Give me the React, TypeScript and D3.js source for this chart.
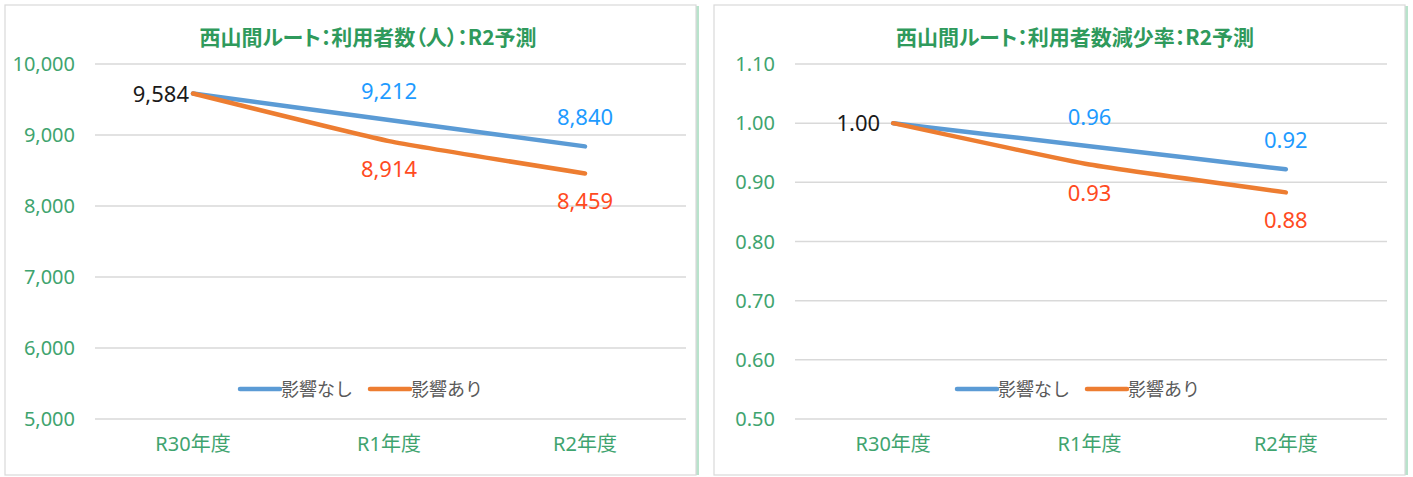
import React from 'react';
import * as d3 from 'd3';

// 西山間ルート data
const categories = ['R30年度', 'R1年度', 'R2年度'];
const noImpactUsers = [9584, 9212, 8840];
const impactUsers = [9584, 8914, 8459];
const noImpactRate = [1.0, 0.961, 0.922];
const impactRate = [1.0, 0.93, 0.883];
const userTicks = [5000, 6000, 7000, 8000, 9000, 10000];
const rateTicks = [0.5, 0.6, 0.7, 0.8, 0.9, 1.0, 1.1];
const seriesNames = ['影響なし', '影響あり'];

const BLUE = '#5b9bd5';
const ORANGE = '#ed7d31';
const BLUE_LABEL = '#1e9bff';
const RED_LABEL = '#ff4b1f';
const GREEN = '#3fa46f';
const TITLE_GREEN = '#2f9a5c';
const FONT = '"Noto Sans", "Noto Sans CJK JP", sans-serif';
const CJK = '"Noto Sans CJK JP", sans-serif';

type PanelProps = {
  x0: number;
  width: number;
  title: string;
  titleX: number;
  plotLeft: number;
  plotRight: number;
  domain: [number, number];
  ticks: number[];
  tickFmt: (v: number) => string;
  a: number[];
  b: number[];
  legendX: number;
  firstGap: number;
};

function Panel({ x0, width, title, titleX, plotLeft, plotRight, domain, ticks, tickFmt, a, b, legendX, firstGap }: PanelProps) {
  const top = 64;
  const bottom = 419;
  const x = d3.scaleBand<string>().domain(categories).range([plotLeft, plotRight]);
  const cx = (c: string) => (x(c) ?? 0) + x.bandwidth() / 2;
  const y = d3.scaleLinear().domain(domain).range([bottom, top]);
  const line = d3
    .line<number>()
    .x((_, i) => cx(categories[i]))
    .y((d) => y(d))
    .curve(d3.curveCardinal.tension(0.6));

  return (
    <g>
      <rect x={x0 + width} y={6} width={3} height={469} fill="#b9e3cc" />
      <rect x={x0} y={5} width={width} height={470} fill="#fff" stroke="#d9d9d9" strokeWidth={1.2} />
      <text
        x={titleX}
        y={45}
        textAnchor="middle"
        fontFamily={CJK}
        fontWeight={700}
        fontSize={21}
        fill={TITLE_GREEN}
        style={{ fontFeatureSettings: '"palt"' }}
      >
        {title}
      </text>
      {ticks.map((t) => (
        <g key={t}>
          <line x1={plotLeft} x2={plotRight + 3} y1={y(t)} y2={y(t)} stroke="#d9d9d9" strokeWidth={1.5} />
          <text x={plotLeft - 20} y={y(t) + 7} textAnchor="end" fontFamily={FONT} fontSize={20} fill={GREEN}>
            {tickFmt(t)}
          </text>
        </g>
      ))}
      {categories.map((c) => (
        <text key={c} x={cx(c)} y={451} textAnchor="middle" fontFamily={FONT} fontSize={20} fill={GREEN}>
          {c}
        </text>
      ))}
      <path d={line(a) ?? ''} fill="none" stroke={BLUE} strokeWidth={4.5} strokeLinecap="round" />
      <path d={line(b) ?? ''} fill="none" stroke={ORANGE} strokeWidth={4.5} strokeLinecap="round" />
      {/* data labels */}
      <text x={cx(categories[0]) - firstGap} y={y(a[0]) + 8} textAnchor="end" fontFamily={FONT} fontSize={22} fill="#1a1a1a">
        {tickFmt(a[0])}
      </text>
      {a.slice(1).map((v, i) => (
        <text key={'a' + i} x={cx(categories[i + 1])} y={y(v) - 21} textAnchor="middle" fontFamily={FONT} fontSize={22} fill={BLUE_LABEL}>
          {tickFmt(v)}
        </text>
      ))}
      {b.slice(1).map((v, i) => (
        <text key={'b' + i} x={cx(categories[i + 1])} y={y(v) + 36} textAnchor="middle" fontFamily={FONT} fontSize={22} fill={RED_LABEL}>
          {tickFmt(v)}
        </text>
      ))}
      {/* legend */}
      {seriesNames.map((s, i) => (
        <g key={s} transform={`translate(${legendX + i * 130},389)`}>
          <line x1={0} x2={40} y1={0} y2={0} stroke={i === 0 ? BLUE : ORANGE} strokeWidth={4.5} strokeLinecap="round" />
          <text x={41} y={7} fontFamily={CJK} fontSize={18} fill="#595959">
            {s}
          </text>
        </g>
      ))}
    </g>
  );
}

export default function App() {
  const fmtUsers = d3.format(',');
  const fmtRate = d3.format('.2f');
  return (
    <svg width={1413} height={477} style={{ position: 'absolute', left: 0, top: 0, background: '#fff' }}>
      <Panel
        x0={5}
        width={691}
        title="西山間ルート：利用者数（人）：R2予測"
        titleX={368}
        plotLeft={95}
        plotRight={683}
        domain={[5000, 10000]}
        ticks={userTicks}
        tickFmt={fmtUsers}
        a={noImpactUsers}
        b={impactUsers}
        legendX={240}
        firstGap={4}
      />
      <Panel
        x0={714}
        width={691}
        title="西山間ルート：利用者数減少率：R2予測"
        titleX={1075}
        plotLeft={795}
        plotRight={1384}
        domain={[0.5, 1.1]}
        ticks={rateTicks}
        tickFmt={fmtRate}
        a={noImpactRate}
        b={impactRate}
        legendX={957}
        firstGap={13}
      />
    </svg>
  );
}
